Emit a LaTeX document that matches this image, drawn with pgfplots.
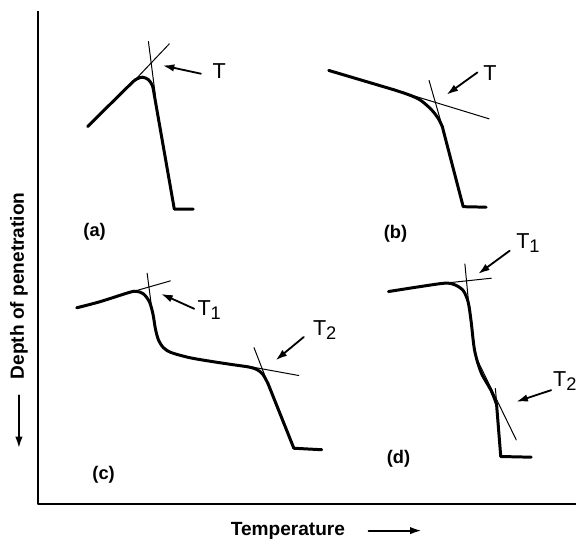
\documentclass[border=0pt]{standalone}
\usepackage{pgfplots}
\pgfplotsset{compat=1.18}
\usepackage{fontspec}
\setmainfont{Liberation Sans}
\usetikzlibrary{arrows.meta}
\newcommand{\Tsub}[1]{T\raisebox{-0.18em}{\fontsize{11}{12}\selectfont #1}}
\begin{document}
\begin{tikzpicture}
\begin{axis}[
  scale only axis, width=349.2pt, height=324.6pt,
  xmin=0, xmax=582, ymin=0, ymax=541, y dir=reverse,
  hide axis, clip=false,
  every axis plot/.append style={black, line cap=round, line join=round},
]
% bounding frame (invisible)
\addplot[draw=none] coordinates {(0,0) (582,541)};
% axes
\addplot[line width=1.2pt, line cap=butt] coordinates {(38,11) (38,506) (578,506)};
% ---------- (a)
\addplot[line width=1.8pt, smooth, tension=0.5] coordinates {(88,127) (130,85.5) (137,79.5) (143,77.5) (149,80) (153,86) (155,96)};
\addplot[line width=1.8pt] coordinates {(155,96) (175,210) (194,210)};
\addplot[line width=0.6pt] coordinates {(132,84) (170,44)};
\addplot[line width=0.6pt] coordinates {(149,41.7) (156,96)};
\addplot[line width=1.1pt, -{Latex[length=7pt,width=4.5pt]}] coordinates {(201.7,74) (163.3,65.7)};
\node at (axis cs:220,71.5) {\fontsize{13}{15}\selectfont T};
\node at (axis cs:95,232.5) {\fontsize{11}{13}\selectfont\bfseries (a)};
% ---------- (b)
\addplot[line width=1.8pt] coordinates {(330,70.7) (395,90)};
\addplot[line width=1.8pt, smooth, tension=0.5] coordinates {(395,90) (410,95) (422,100.5) (433,110) (440,119) (444,127)};
\addplot[line width=1.8pt] coordinates {(444,127) (465,207.5) (488,208)};
\addplot[line width=0.6pt] coordinates {(405,93) (491,119.3)};
\addplot[line width=0.6pt] coordinates {(430.7,80.7) (444,127)};
\addplot[line width=1.1pt, -{Latex[length=7pt,width=4.5pt]}] coordinates {(479.3,72.7) (448.3,95)};
\node at (axis cs:492,73) {\fontsize{13}{15}\selectfont T};
\node at (axis cs:397,234.5) {\fontsize{11}{13}\selectfont\bfseries (b)};
% ---------- (c)
\addplot[line width=1.8pt, smooth, tension=0.5] coordinates {(77,309) (100,303) (130,293.5) (137,292.5) (144,295) (150,303) (153.5,315) (156,330) (159,341) (164,349) (172,354) (190,359) (210,362.5) (233,366) (250,368.5) (258,371) (264,376) (269,385)};
\addplot[line width=1.8pt] coordinates {(269,385) (295,450) (323,451.5)};
\addplot[line width=0.6pt] coordinates {(122,296) (171,282)};
\addplot[line width=0.6pt] coordinates {(147.7,274.3) (152,307)};
\addplot[line width=0.6pt] coordinates {(245,367) (300,377)};
\addplot[line width=0.6pt] coordinates {(255,349) (267,380)};
\addplot[line width=1.1pt, -{Latex[length=7pt,width=4.5pt]}] coordinates {(195,310) (161.7,295)};
\addplot[line width=1.1pt, -{Latex[length=7pt,width=4.5pt]}] coordinates {(305,338.3) (276.7,361.7)};
\node at (axis cs:210,311) {\fontsize{13}{15}\selectfont\Tsub{1}};
\node at (axis cs:326,331) {\fontsize{13}{15}\selectfont\Tsub{2}};
\node at (axis cs:104,477) {\fontsize{11}{13}\selectfont\bfseries (c)};
% ---------- (d)
\addplot[line width=1.8pt, smooth, tension=0.5] coordinates {(390,292.7) (420,288) (446.7,284.3) (456.7,286) (465,291.7) (470,303.3) (473,323) (476.5,352) (483,374) (493,392) (498.5,406)};
\addplot[line width=1.8pt] coordinates {(498.5,406) (502.7,458.3) (533.3,459)};
\addplot[line width=0.6pt] coordinates {(440,285) (493.3,279.3)};
\addplot[line width=0.6pt] coordinates {(466.7,265) (470.7,306.7)};
\addplot[line width=0.6pt] coordinates {(480,363) (518.3,441.7)};
\addplot[line width=0.6pt] coordinates {(497.3,390) (501,430)};
\addplot[line width=1.1pt, -{Latex[length=7pt,width=4.5pt]}] coordinates {(511.7,251.7) (480,275)};
\addplot[line width=1.1pt, -{Latex[length=7pt,width=4.5pt]}] coordinates {(553.3,391.7) (518.3,403.3)};
\node at (axis cs:530,244) {\fontsize{13}{15}\selectfont\Tsub{1}};
\node at (axis cs:567,383) {\fontsize{13}{15}\selectfont\Tsub{2}};
\node at (axis cs:400,461) {\fontsize{11}{13}\selectfont\bfseries (d)};
% ---------- axis labels
\node[rotate=90] at (axis cs:19,287) {\fontsize{11.5}{13}\selectfont\bfseries Depth of penetration};
\addplot[line width=1.2pt, -{Latex[length=7pt,width=4.5pt]}] coordinates {(19,397) (19,450)};
\node at (axis cs:289,533) {\fontsize{11.5}{13}\selectfont\bfseries Temperature};
\addplot[line width=1.2pt, -{Latex[length=7pt,width=4.5pt]}] coordinates {(370,532.7) (423.3,532.7)};
\end{axis}
\end{tikzpicture}
\end{document}
